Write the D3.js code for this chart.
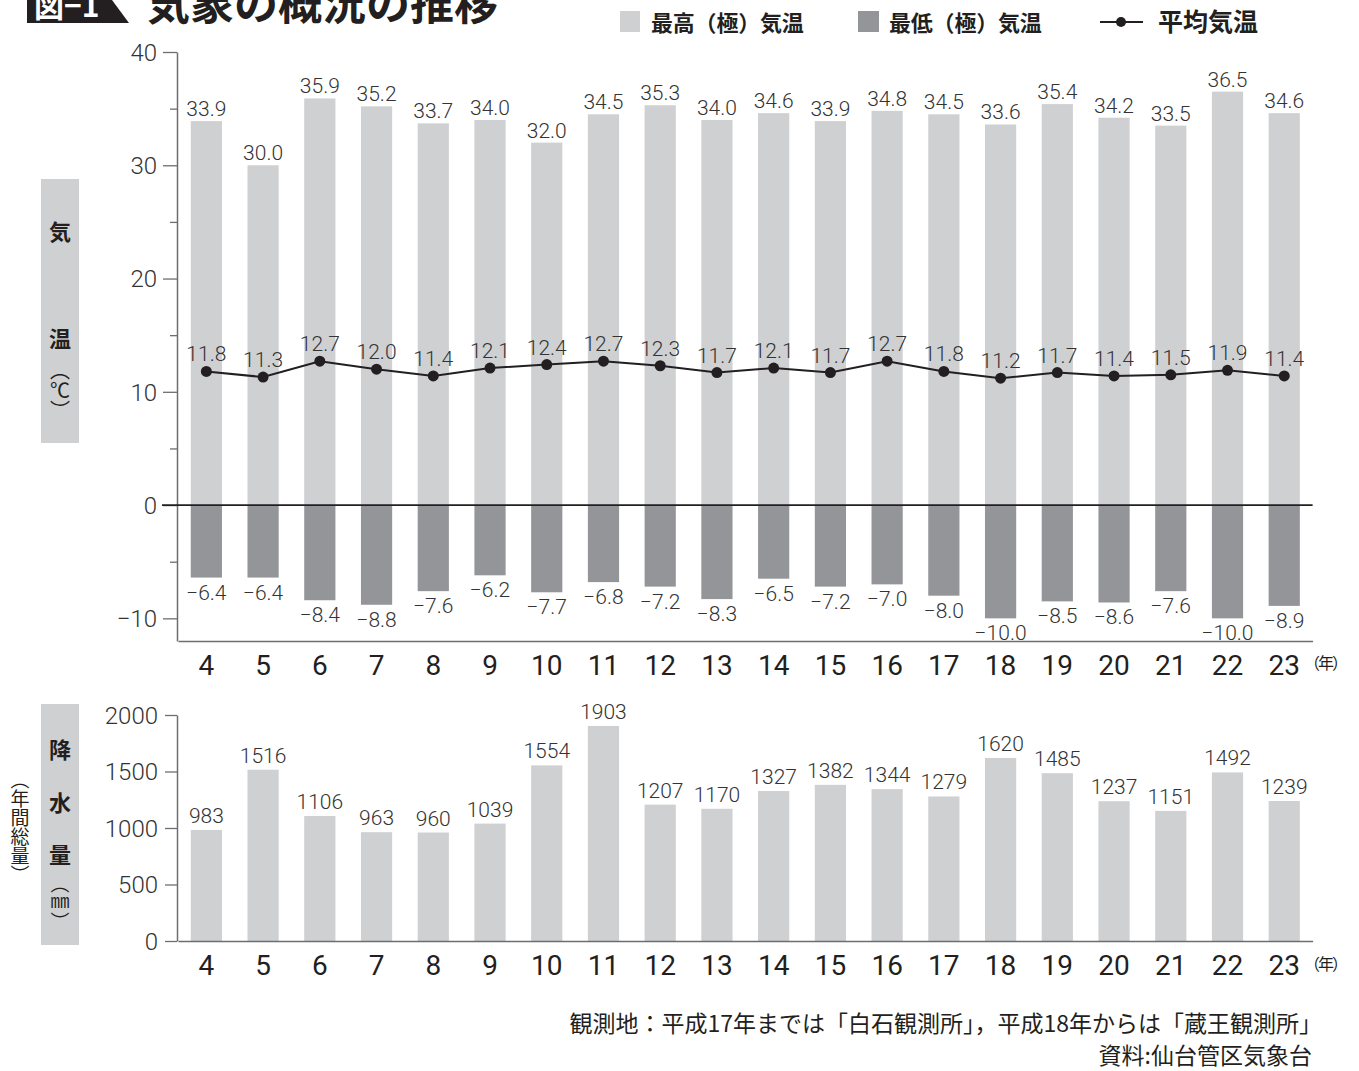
<!DOCTYPE html>
<html><head><meta charset="utf-8">
<script src="https://cdn.jsdelivr.net/npm/d3@7/dist/d3.min.js"></script>
<style>
body{margin:0;background:#fff;}
svg{display:block;}
text{font-family:"Noto Sans CJK JP","Noto Sans",sans-serif;}
.num{font-family:Roboto,"Noto Sans",sans-serif;font-weight:300;}
</style></head>
<body>
<svg id="c" width="1359" height="1071"></svg>
<script>
const years = ["4","5","6","7","8","9","10","11","12","13","14","15","16","17","18","19","20","21","22","23"];
const maxTemp = [33.9,30.0,35.9,35.2,33.7,34.0,32.0,34.5,35.3,34.0,34.6,33.9,34.8,34.5,33.6,35.4,34.2,33.5,36.5,34.6];
const minTemp = [-6.4,-6.4,-8.4,-8.8,-7.6,-6.2,-7.7,-6.8,-7.2,-8.3,-6.5,-7.2,-7.0,-8.0,-10.0,-8.5,-8.6,-7.6,-10.0,-8.9];
const avgTemp = [11.8,11.3,12.7,12.0,11.4,12.1,12.4,12.7,12.3,11.7,12.1,11.7,12.7,11.8,11.2,11.7,11.4,11.5,11.9,11.4];
const precip = [983,1516,1106,963,960,1039,1554,1903,1207,1170,1327,1382,1344,1279,1620,1485,1237,1151,1492,1239];
const tempTicks = [-10,0,10,20,30,40];
const tempMinorTicks = [-5,5,15,25,35];
const precipTicks = [0,500,1000,1500,2000];
const legendLabels = ["最高（極）気温","最低（極）気温","平均気温"];

const LIGHT = "#cfd0d2", DARK = "#939598", AXIS = "#6d6e70";
const svg = d3.select("#c");
const fmt1 = d3.format(".1f");

const x = d3.scaleBand().domain(years).range([178, 1312.6]).paddingInner(0.45).paddingOuter(0.225);
const cx = d => x(d) + x.bandwidth()/2;

// ---------- Title ----------
svg.append("polygon").attr("points","27,0 112,0 129,23 27,23").attr("fill","#231f20");
svg.append("text").attr("x",34).attr("y",17).attr("fill","#fff").attr("font-size",30).attr("font-weight",700).text("図−1");
svg.append("text").attr("x",146).attr("y",20).attr("fill","#231f20").attr("font-size",44).attr("font-weight",700).text("気象の概況の推移");

// ---------- Legend ----------
const lg = svg.append("g").attr("font-size",22).attr("font-weight",700).attr("fill","#231f20");
lg.append("rect").attr("x",620).attr("y",11).attr("width",20).attr("height",21).attr("fill",LIGHT);
lg.append("text").attr("x",651).attr("y",31).attr("letter-spacing",-0.2).text(legendLabels[0]);
lg.append("rect").attr("x",858).attr("y",11).attr("width",21).attr("height",21).attr("fill",DARK);
lg.append("text").attr("x",889).attr("y",31).attr("letter-spacing",-0.2).text(legendLabels[1]);
lg.append("line").attr("x1",1100).attr("x2",1143).attr("y1",22).attr("y2",22).attr("stroke","#231f20").attr("stroke-width",2);
lg.append("circle").attr("cx",1121).attr("cy",22).attr("r",5).attr("fill","#231f20");
lg.append("text").attr("x",1158).attr("y",31).attr("font-size",25).text(legendLabels[2]);

// ---------- Temperature chart ----------
const yT = d3.scaleLinear().domain([-12,40]).range([641,52]);
const gT = svg.append("g");

gT.selectAll(".mx").data(maxTemp).join("rect")
  .attr("x",(d,i)=>x(years[i])).attr("width",x.bandwidth())
  .attr("y",d=>yT(d)).attr("height",d=>yT(0)-yT(d)).attr("fill",LIGHT);
gT.selectAll(".mn").data(minTemp).join("rect")
  .attr("x",(d,i)=>x(years[i])).attr("width",x.bandwidth())
  .attr("y",yT(0)).attr("height",d=>yT(d)-yT(0)).attr("fill",DARK);

// axes
const axT = gT.append("g").attr("transform","translate(177,0)")
  .call(d3.axisLeft(yT).tickValues(tempTicks).tickSize(14).tickSizeOuter(0).tickPadding(6).tickFormat(d3.format("d")));
axT.select(".domain").attr("stroke",AXIS).attr("stroke-width",1.5);
axT.selectAll(".tick line").attr("stroke",AXIS).attr("stroke-width",1.3);
axT.selectAll(".tick text").attr("font-size",24).attr("fill","#333").attr("class","num").attr("dy","0.35em");
const axTm = gT.append("g").attr("transform","translate(177,0)")
  .call(d3.axisLeft(yT).tickValues(tempMinorTicks).tickSize(7).tickSizeOuter(0).tickFormat(""));
axTm.select(".domain").remove();
axTm.selectAll(".tick line").attr("stroke",AXIS).attr("stroke-width",1.3);

const axXT = gT.append("g").attr("transform","translate(0,641)")
  .call(d3.axisBottom(x).tickSize(0).tickSizeOuter(0).tickPadding(10));
axXT.select(".domain").attr("stroke",AXIS).attr("stroke-width",1.5);
axXT.selectAll(".tick text").attr("font-size",28).attr("fill","#231f20").attr("class","num").style("font-weight",400).attr("dy","0.85em");

// zero line
gT.append("line").attr("x1",162).attr("x2",1312.6).attr("y1",yT(0)).attr("y2",yT(0)).attr("stroke","#231f20").attr("stroke-width",1.6);

// labels
gT.selectAll(".mxl").data(maxTemp).join("text").attr("class","num")
  .attr("x",(d,i)=>cx(years[i])).attr("y",d=>yT(d)-5).attr("text-anchor","middle")
  .attr("font-size",21).attr("fill","#333").text(d=>fmt1(d));
gT.selectAll(".mnl").data(minTemp).join("text").attr("class","num")
  .attr("x",(d,i)=>cx(years[i])).attr("y",d=>yT(d)+22).attr("text-anchor","middle")
  .attr("font-size",21).attr("fill","#333").text(d=>fmt1(d));

// average line
const line = d3.line().x((d,i)=>cx(years[i])).y(d=>yT(d));
gT.append("path").datum(avgTemp).attr("d",line).attr("fill","none").attr("stroke","#231f20").attr("stroke-width",2);
gT.selectAll(".av").data(avgTemp).join("circle")
  .attr("cx",(d,i)=>cx(years[i])).attr("cy",d=>yT(d)).attr("r",5.5).attr("fill","#231f20");
gT.selectAll(".avl").data(avgTemp).join("text").attr("class","num")
  .attr("x",(d,i)=>cx(years[i])).attr("y",d=>yT(d)-10).attr("text-anchor","middle")
  .attr("font-size",21).attr("fill","#333").text(d=>fmt1(d));

// (年)
svg.append("text").attr("x",1325).attr("y",669).attr("text-anchor","middle").attr("font-size",16).attr("fill","#231f20").attr("letter-spacing",-2).text("（年）");

// y-label box temperature
svg.append("rect").attr("x",41).attr("y",179).attr("width",38).attr("height",264).attr("fill",LIGHT);
const lbT = svg.append("g").attr("font-size",22).attr("font-weight",700).attr("fill","#231f20").attr("text-anchor","middle");
lbT.append("text").attr("x",60).attr("y",240).text("気");
lbT.append("text").attr("x",60).attr("y",347).text("温");
lbT.append("text").attr("x",60).attr("y",360).attr("writing-mode","vertical-rl").attr("text-anchor","start").attr("font-weight",400).attr("font-size",20).text("（℃）");

// ---------- Precipitation chart ----------
const yP = d3.scaleLinear().domain([0,2000]).range([941,715]);
const gP = svg.append("g");
gP.selectAll(".pb").data(precip).join("rect")
  .attr("x",(d,i)=>x(years[i])).attr("width",x.bandwidth())
  .attr("y",d=>yP(d)).attr("height",d=>yP(0)-yP(d)).attr("fill",LIGHT);
gP.selectAll(".pl").data(precip).join("text").attr("class","num")
  .attr("x",(d,i)=>cx(years[i])).attr("y",d=>yP(d)-7).attr("text-anchor","middle")
  .attr("font-size",21).attr("fill","#333").text(d=>d);

const axP = gP.append("g").attr("transform","translate(177,0)")
  .call(d3.axisLeft(yP).tickValues(precipTicks).tickSize(12).tickSizeOuter(0).tickPadding(7).tickFormat(d3.format("d")));
axP.select(".domain").attr("stroke",AXIS).attr("stroke-width",1.5);
axP.selectAll(".tick line").attr("stroke",AXIS).attr("stroke-width",1.3);
axP.selectAll(".tick text").attr("font-size",24).attr("fill","#333").attr("class","num").attr("dy","0.35em");

const axXP = gP.append("g").attr("transform","translate(0,941)")
  .call(d3.axisBottom(x).tickSize(0).tickSizeOuter(0).tickPadding(10));
axXP.select(".domain").attr("stroke",AXIS).attr("stroke-width",1.5);
axXP.selectAll(".tick text").attr("font-size",28).attr("fill","#231f20").attr("class","num").style("font-weight",400).attr("dy","0.85em");

svg.append("text").attr("x",1325).attr("y",970).attr("text-anchor","middle").attr("font-size",16).attr("fill","#231f20").attr("letter-spacing",-2).text("（年）");

svg.append("rect").attr("x",41).attr("y",704).attr("width",38).attr("height",241).attr("fill",LIGHT);
const lbP = svg.append("g").attr("font-size",22).attr("font-weight",700).attr("fill","#231f20").attr("text-anchor","middle");
lbP.append("text").attr("x",60).attr("y",758).text("降");
lbP.append("text").attr("x",60).attr("y",811).text("水");
lbP.append("text").attr("x",60).attr("y",863).text("量");
lbP.append("text").attr("x",60).attr("y",874).attr("writing-mode","vertical-rl").attr("text-anchor","start").attr("font-weight",400).attr("font-size",19).text("（㎜）");
svg.append("text").attr("x",20).attr("y",770).attr("writing-mode","vertical-rl").attr("font-size",19).attr("fill","#231f20").text("（年間総量）");

// ---------- Footer ----------
const ft = svg.append("g").attr("font-size",23).attr("fill","#231f20").attr("text-anchor","end");
ft.append("text").attr("x",1322).attr("y",1032).text("観測地：平成17年までは「白石観測所」，平成18年からは「蔵王観測所」");
ft.append("text").attr("x",1312).attr("y",1064).text("資料:仙台管区気象台");
</script>
</body></html>
